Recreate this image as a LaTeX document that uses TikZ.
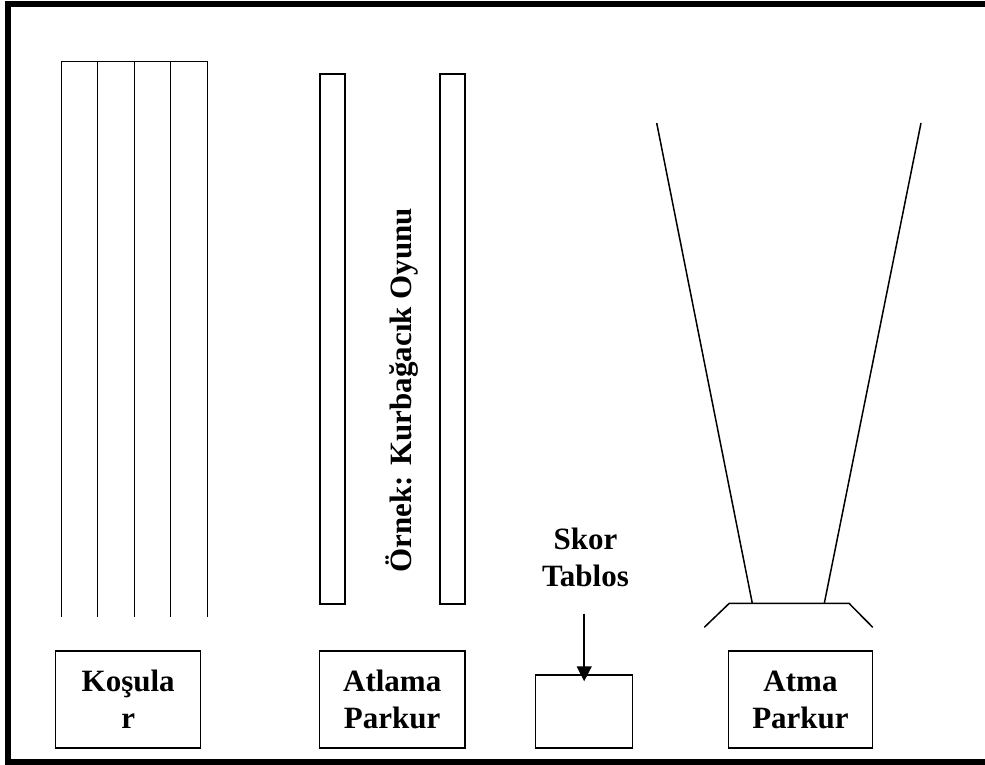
\documentclass[tikz,border=0pt]{standalone}
\usepackage{fontspec}
\setmainfont{Liberation Serif}
\usepackage{tikz}
\usetikzlibrary{arrows.meta, positioning}
\tikzset{
  parkbox/.style={draw, line width=1.5pt, minimum height=97pt, align=center, inner sep=0pt},
  lane/.style={line width=1pt},
  field/.style={line width=1.5pt},
  bigtext/.style={font=\bfseries\fontsize{31}{37}\selectfont, align=center, inner sep=0pt}
}

\begin{document}
\begin{tikzpicture}[x=1pt, y=-1pt, every node/.style={bigtext}]
\useasboundingbox (0,0) rectangle (985,765);
\draw[line width=6pt] (8,4) rectangle (1000,762);
% kosu kulvarlari
\draw[lane] (61,617) -- (61,62) -- (207,62) -- (207,617);
\foreach \i in {1,2,3} \draw[lane] (61+36.5*\i,62) -- ++(0,555);
% atlama
\draw[field] (320,74) rectangle (345,604);
\draw[field] (440,74) rectangle (465,604);
\node[rotate=90] (ornek) at (402,390) {Örnek: Kurbağacık Oyunu};
% atma sektoru
\draw[field] (656.7,123) -- (752.3,603.3);
\draw[field] (921,123) -- (824.3,603.3);
\draw[field] (704.3,627.3) -- (729.3,603.3) -- (849,603.3) -- (872.7,627.3);
% kutular
\node[parkbox, minimum width=145pt] (kosu) at (128.2,699.5) {Koşula\\r};
\node[parkbox, minimum width=145.7pt] (atlama) at (392.2,699.5) {Atlama\\Parkur};
\node[parkbox, minimum width=97pt, minimum height=73pt] (skorbox) at (584.2,711.5) {};
\node[parkbox, minimum width=144.4pt] (atma) at (800.5,699.5) {Atma\\Parkur};
\node (skor) at (585.5,557) {Skor\\Tablos};
\draw[field, -{Triangle[length=15pt,width=15pt]}, shorten <=27pt, shorten >=-7pt]
  (skor.south -| skorbox.north) -- (skorbox.north);
\end{tikzpicture}
\end{document}
